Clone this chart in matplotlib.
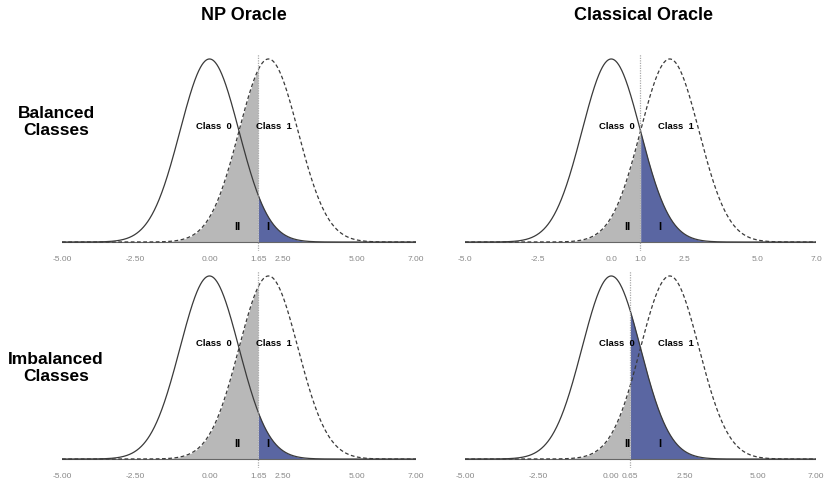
import numpy as np
import matplotlib
matplotlib.use("Agg")
import matplotlib.pyplot as plt

plt.rcParams['font.family'] = ['Liberation Sans', 'DejaVu Sans']

# ---- data ----
col_titles = ["NP Oracle", "Classical Oracle"]
row_titles = ["Balanced\nClasses", "Imbalanced\nClasses"]
class_labels = ["Class  0", "Class  1"]
mean0, sd0 = 0.0, 1.0        # class 0 density
mean1, sd1 = 2.0, 1.0        # class 1 density
x_min, x_max = -5.0, 7.0
# thresholds: [row][col]
thresholds = [[1.65, 1.0], [1.65, 0.65]]
tick_values = [
    [[-5, -2.5, 0, 1.65, 2.5, 5, 7], [-5, -2.5, 0, 1.0, 2.5, 5, 7]],
    [[-5, -2.5, 0, 1.65, 2.5, 5, 7], [-5, -2.5, 0, 0.65, 2.5, 5, 7]],
]
tick_labels = [
    [["-5.00", "-2.50", "0.00", "1.65", "2.50", "5.00", "7.00"],
     ["-5.0", "-2.5", "0.0", "1.0", "2.5", "5.0", "7.0"]],
    [["-5.00", "-2.50", "0.00", "1.65", "2.50", "5.00", "7.00"],
     ["-5.00", "-2.50", "0.00", "0.65", "2.50", "5.00", "7.00"]],
]
# label positions (x) per column: class0, class1, II, I
label_x = [[0.15, 2.2, 0.93, 1.98], [0.2, 2.2, 0.55, 1.67]]


def dnorm(x, m, s):
    return np.exp(-0.5 * ((x - m) / s) ** 2) / (s * np.sqrt(2 * np.pi))


W, H = 829, 481
fig = plt.figure(figsize=(W / 100, H / 100), dpi=100)

# panel pixel boxes: left, right, top(y of ylim top), bottom(y of ylim bottom)
panels = {
    (0, 0): (62, 416, 50.3, 252.2),
    (0, 1): (465, 816, 50.3, 252.2),
    (1, 0): (62, 416, 267.3, 469.2),
    (1, 1): (465, 816, 267.3, 469.2),
}

grey = "#b8b8b8"
blue = "#5a66a2"
line_col = "#3a3a3a"

xs = np.linspace(x_min, x_max, 1200)
y0 = dnorm(xs, mean0, sd0)
y1 = dnorm(xs, mean1, sd1)

for (r, c), (l, rr, t, b) in panels.items():
    ax = fig.add_axes([l / W, 1 - b / H, (rr - l) / W, (b - t) / H])
    thr = thresholds[r][c]
    ax.fill_between(xs, 0, y1, where=xs <= thr, color=grey, lw=0, interpolate=True)
    ax.fill_between(xs, 0, y0, where=xs >= thr, color=blue, lw=0, interpolate=True)
    ax.plot([x_min, x_max], [0, 0], color="#666666", lw=0.8)
    ax.plot(xs, y0, color=line_col, lw=0.9)
    ax.plot(xs, y1, color=line_col, lw=0.9, linestyle=(0, (3, 2)))
    ax.plot([thr, thr], [-0.02, 0.41], color="#aaaaaa", lw=0.9, linestyle=(0, (1, 1)))
    lx = label_x[c]
    ax.text(lx[0], 0.255, class_labels[0], ha="center", va="center",
            fontsize=6.8, fontweight="bold")
    ax.text(lx[1], 0.255, class_labels[1], ha="center", va="center",
            fontsize=6.8, fontweight="bold")
    ax.text(lx[2], 0.034, "II", ha="center", va="center", fontsize=8, fontweight="bold")
    ax.text(lx[3], 0.034, "I", ha="center", va="center", fontsize=8, fontweight="bold")
    ax.set_xlim(x_min, x_max)
    ax.set_ylim(-0.02, 0.42)
    ax.set_xticks(tick_values[r][c])
    ax.set_xticklabels(tick_labels[r][c])
    ax.tick_params(axis="x", length=0, pad=3, labelsize=6, labelcolor="#888888")
    ax.set_yticks([])
    for s in ax.spines.values():
        s.set_visible(False)
    ax.patch.set_alpha(0)

fig.text(244 / W, 1 - 16 / H, col_titles[0], ha="center", va="center",
         fontsize=13, fontweight="bold")
fig.text(644 / W, 1 - 16 / H, col_titles[1], ha="center", va="center",
         fontsize=13, fontweight="bold")
fig.text(56 / W, 1 - 122 / H, row_titles[0], ha="center", va="center",
         fontsize=12.5, fontweight="bold", linespacing=1.15)
fig.text(56 / W, 1 - 368 / H, row_titles[1], ha="center", va="center",
         fontsize=12.5, fontweight="bold", linespacing=1.15)

fig.savefig("out.png", dpi=100)
